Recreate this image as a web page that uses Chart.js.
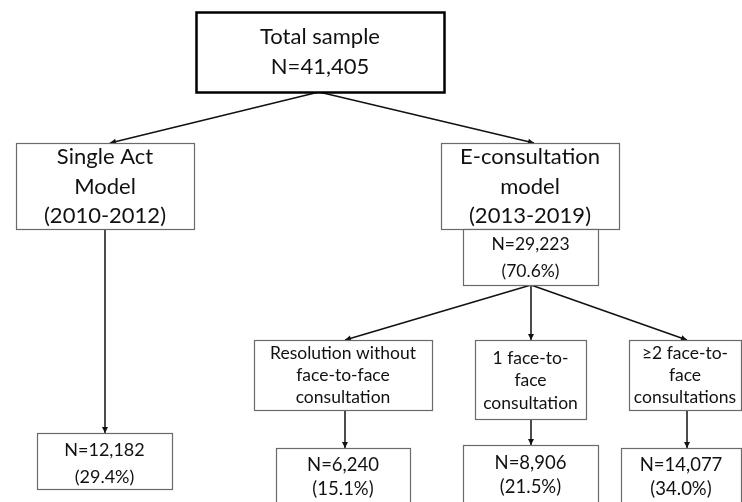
<!DOCTYPE html>
<html>
<head>
<meta charset="utf-8">
<script src="https://cdn.jsdelivr.net/npm/chart.js@4/dist/chart.umd.min.js"></script>
<style>
  html, body { margin: 0; padding: 0; background: #fff; }
  #wrap { width: 742px; height: 502px; }
</style>
</head>
<body>
<div id="wrap"><canvas id="myChart"></canvas></div>
<script>
// flowchart content
const nodeTitles = [
    ['Total sample'],
    ['Single Act', 'Model', '(2010-2012)'],
    ['E-consultation', 'model', '(2013-2019)'],
    [],
    [],
    ['Resolution without', 'face-to-face', 'consultation'],
    ['1 face-to-', 'face', 'consultation'],
    ['\u22652 face-to-', 'face', 'consultations'],
    [],
    [],
    []
];
const nodeCounts = [41405, null, null, 29223, 12182, null, null, null, 6240, 8906, 14077];
const nodePercents = [null, null, null, 70.6, 29.4, null, null, null, 15.1, 21.5, 34.0];

// layout (pixel units of the hidden scales): left, top, right, bottom
const nodeBoxes = [
    [196, 12, 444, 92],
    [16, 143, 194, 229],
    [441, 143, 619, 229],
    [463, 229, 598, 285],
    [37, 433, 172, 489],
    [254, 340, 432, 410],
    [475, 340, 586, 419],
    [629, 340, 741, 410],
    [276, 448, 410, 520],
    [463, 445, 598, 520],
    [621, 448, 741, 520]
];
const nodeFont = [22, 22, 22, 17.5, 18, 17.5, 17.5, 17.5, 18.5, 18.5, 18.5];
const nodeLineH = [30, 29.5, 29.5, 27, 27, 22, 22.5, 22, 24.5, 24.5, 24.5];
const nodeTextTop = [37, 157, 157, 244, 450, 353, 358, 353, 465, 463, 465];

// arrows: from [x, y] to [x, y]
const arrows = [
    [[319, 92], [110, 143]],
    [[319, 92], [534, 143]],
    [[105, 229], [105, 433]],
    [[531, 285], [345, 340]],
    [[531, 285], [531, 340]],
    [[531, 285], [687, 340]],
    [[345, 410], [345, 448]],
    [[531, 419], [531, 445]],
    [[687, 410], [687, 448]]
];

function nodeLines(i) {
    const lines = nodeTitles[i].slice();
    if (nodeCounts[i] !== null) lines.push('N=' + nodeCounts[i].toLocaleString('en-US'));
    if (nodePercents[i] !== null) lines.push('(' + nodePercents[i].toFixed(1) + '%)');
    return lines;
}

const flowPlugin = {
    id: 'flow',
    afterDraw(chart) {
        const ctx = chart.ctx;
        const xs = chart.scales.x, ys = chart.scales.y;
        const px = v => xs.getPixelForValue(v);
        const py = v => ys.getPixelForValue(v);
        ctx.save();

        // arrows
        arrows.forEach(a => {
            const x1 = px(a[0][0]), y1 = py(a[0][1]);
            const x2 = px(a[1][0]), y2 = py(a[1][1]);
            ctx.strokeStyle = '#111';
            ctx.fillStyle = '#111';
            ctx.lineWidth = 1.5;
            ctx.beginPath();
            ctx.moveTo(x1, y1);
            ctx.lineTo(x2, y2);
            ctx.stroke();
            const ang = Math.atan2(y2 - y1, x2 - x1);
            const len = 6, w = 3;
            ctx.beginPath();
            ctx.moveTo(x2, y2);
            ctx.lineTo(x2 - len * Math.cos(ang) + w * Math.sin(ang), y2 - len * Math.sin(ang) - w * Math.cos(ang));
            ctx.lineTo(x2 - len * Math.cos(ang) - w * Math.sin(ang), y2 - len * Math.sin(ang) + w * Math.cos(ang));
            ctx.closePath();
            ctx.fill();
        });

        // boxes
        nodeBoxes.forEach((b, i) => {
            const x0 = px(b[0]), y0 = py(b[1]), x1 = px(b[2]), y1 = py(b[3]);
            ctx.fillStyle = '#fff';
            ctx.fillRect(x0, y0, x1 - x0, y1 - y0);
            ctx.strokeStyle = i === 0 ? '#000' : '#6a6a6a';
            ctx.lineWidth = i === 0 ? 2.5 : 1.2;
            ctx.strokeRect(Math.round(x0) + 0.5, Math.round(y0) + 0.5, Math.round(x1 - x0), Math.round(y1 - y0));

            ctx.fillStyle = '#111';
            ctx.textAlign = 'center';
            ctx.textBaseline = 'middle';
            ctx.font = nodeFont[i] + 'px Lato, "Open Sans", sans-serif';
            const cx = (x0 + x1) / 2;
            nodeLines(i).forEach((t, k) => {
                ctx.fillText(t, cx, py(nodeTextTop[i] + k * nodeLineH[i]));
            });
        });
        ctx.restore();
    }
};

const ctx = document.getElementById('myChart').getContext('2d');
const myChart = new Chart(ctx, {
    type: 'scatter',
    data: {
        datasets: [{
            data: nodeBoxes.map(b => ({ x: (b[0] + b[2]) / 2, y: (b[1] + b[3]) / 2 })),
            pointRadius: 0,
            pointHoverRadius: 0
        }]
    },
    options: {
        responsive: true,
        maintainAspectRatio: false,
        animation: false,
        layout: { padding: 0 },
        plugins: { legend: { display: false }, tooltip: { enabled: false } },
        scales: {
            x: { type: 'linear', min: 0, max: 742, display: false },
            y: { type: 'linear', min: 0, max: 502, reverse: true, display: false }
        }
    },
    plugins: [flowPlugin]
});
</script>
</body>
</html>
